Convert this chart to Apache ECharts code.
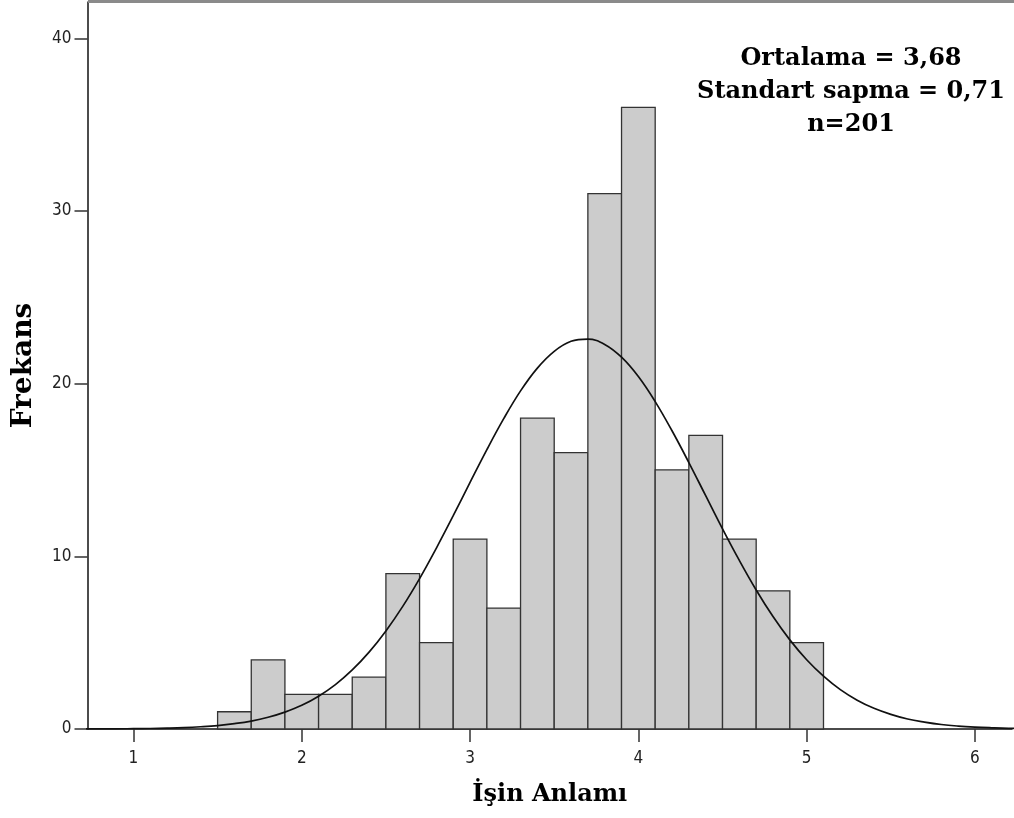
<!DOCTYPE html>
<html>
<head>
<meta charset="utf-8">
<script src="https://cdn.jsdelivr.net/npm/echarts@6/dist/echarts.min.js"></script>
<style>html,body{margin:0;padding:0;background:#fff;}#c{width:1014px;height:818px;}</style>
</head>
<body>
<div id="c"></div>
<script>
// Histogram bins (left edge of each 0.2-wide bin) and frequencies
var binLeft = [1.5, 1.7, 1.9, 2.1, 2.3, 2.5, 2.7, 2.9, 3.1, 3.3, 3.5, 3.7, 3.9, 4.1, 4.3, 4.5, 4.7, 4.9];
var counts  = [1, 4, 2, 2, 3, 9, 5, 11, 7, 18, 16, 31, 36, 15, 17, 11, 8, 5];
var binWidth = 0.2;

// Normal curve (x, frequency)
var curveX = [0.7,0.8,0.9,1.0,1.1,1.2,1.3,1.4,1.5,1.6,1.7,1.8,1.9,2.0,2.1,2.2,2.3,2.4,2.5,2.6,2.7,2.8,2.9,3.0,3.1,3.2,3.3,3.4,3.5,3.6,3.7,3.8,3.9,4.0,4.1,4.2,4.3,4.4,4.5,4.6,4.7,4.8,4.9,5.0,5.1,5.2,5.3,5.4,5.5,5.6,5.7,5.8,5.9,6.0,6.1,6.2,6.3];
var curveY = [0.00,0.01,0.01,0.02,0.03,0.05,0.08,0.13,0.20,0.31,0.46,0.68,0.98,1.37,1.90,2.57,3.42,4.45,5.68,7.10,8.71,10.48,12.35,14.28,16.18,17.97,19.58,20.90,21.87,22.45,22.58,22.27,21.53,20.41,18.96,17.27,15.43,13.51,11.59,9.76,8.05,6.51,5.16,4.01,3.06,2.28,1.67,1.20,0.85,0.58,0.40,0.26,0.17,0.11,0.07,0.04,0.03];

var xTicks = [1, 2, 3, 4, 5, 6];
var yTicks = [0, 10, 20, 30, 40];

var statsLines = ['Ortalama = 3,68', 'Standart sapma = 0,71', 'n=201'];
var xTitle = 'İşin Anlamı';
var yTitle = 'Frekans';

var barData = binLeft.map(function (l, i) { return [l, l + binWidth, counts[i]]; });
var curveData = curveX.map(function (x, i) { return [x, curveY[i]]; });

var chart = echarts.init(document.getElementById('c'));
var labelFont = '"DejaVu Sans Condensed", "DejaVu Sans", sans-serif';
var titleFont = '"DejaVu Serif", serif';

chart.setOption({
  animation: false,
  grid: { left: 87.5, right: 2, top: 2, bottom: 89, containLabel: false, outerBoundsMode: 'none' },
  xAxis: {
    type: 'value', min: 0.727, max: 6.22, interval: 1,
    name: xTitle, nameLocation: 'middle', nameGap: 54,
    nameTextStyle: { fontFamily: titleFont, fontWeight: 'bold', fontSize: 24, color: '#000' },
    axisLine: { lineStyle: { color: '#111', width: 1.5 } },
    axisTick: { show: true, length: 13, lineStyle: { color: '#333', width: 1.5 }, customValues: xTicks },
    axisLabel: { fontFamily: labelFont, fontSize: 17, color: '#222', margin: 21, customValues: xTicks },
    splitLine: { show: false }
  },
  yAxis: {
    type: 'value', min: 0, max: 42.1, interval: 10,
    name: yTitle, nameLocation: 'middle', nameGap: 50,
    nameTextStyle: { fontFamily: titleFont, fontWeight: 'bold', fontSize: 28, color: '#000' },
    axisLine: { show: true, lineStyle: { color: '#111', width: 1.5 } },
    axisTick: { show: true, length: 13, lineStyle: { color: '#333', width: 1.5 }, customValues: yTicks },
    axisLabel: { fontFamily: labelFont, fontSize: 17, color: '#222', margin: 16, customValues: yTicks },
    splitLine: { show: false }
  },
  graphic: [
    { type: 'rect', shape: { x: 88, y: 0, width: 926, height: 3 }, style: { fill: '#8a8a8a' }, z: 100 },
    { type: 'text', left: 851 - 160, top: 42, z: 100,
      style: { text: statsLines.join('\n'), font: 'bold 24px ' + titleFont, fill: '#000',
        textAlign: 'center', lineHeight: 33, width: 320, align: 'center' } }
  ],
  series: [
    {
      type: 'custom',
      data: barData,
      encode: { x: [0, 1], y: 2 },
      renderItem: function (params, api) {
        var p0 = api.coord([api.value(0), api.value(2)]);
        var p1 = api.coord([api.value(1), 0]);
        return {
          type: 'rect',
          shape: { x: p0[0], y: p0[1], width: p1[0] - p0[0], height: p1[1] - p0[1] },
          style: { fill: '#cccccc', stroke: '#333333', lineWidth: 1.3 }
        };
      },
      z: 2
    },
    {
      type: 'line', data: curveData, showSymbol: false, symbol: 'none', smooth: 0.4,
      lineStyle: { color: '#111', width: 1.7 }, clip: true, z: 3
    }
  ]
});
</script>
</body>
</html>
